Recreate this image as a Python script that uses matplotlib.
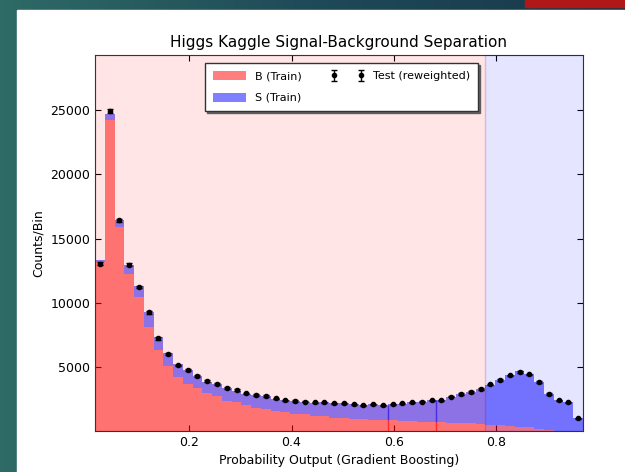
import numpy as np
import matplotlib
matplotlib.use("Agg")
import matplotlib.pyplot as plt
from matplotlib.patches import Rectangle

# probability range of the histogram and the cut values
x_lo, x_hi = 0.0154, 0.9705
n_bins = 50
cut_lines = [0.588, 0.682]
sig_cut = 0.7785

# training background (B), stacked signal total (B+S) and test counts, per bin
b_train = [13150, 24250, 15900, 12200, 10450, 8100, 6350, 5050, 4200, 3650,
           3350, 3000, 2700, 2350, 2250, 2050, 1800, 1750, 1560, 1500,
           1340, 1300, 1180, 1150, 1050, 1010, 930, 900, 870, 850,
           820, 790, 760, 730, 700, 670, 640, 610, 600, 540,
           470, 430, 390, 340, 280, 170, 70, 30, 15, 5]
total_train = [13300, 24735, 16425, 12920, 11310, 9285, 7290, 6090, 5185, 4740,
               4275, 3835, 3650, 3315, 3110, 2880, 2780, 2700, 2520, 2400,
               2330, 2270, 2220, 2240, 2150, 2150, 2070, 2030, 2070, 2020,
               2090, 2140, 2240, 2270, 2400, 2420, 2650, 2870, 3030, 3280,
               3620, 4000, 4340, 4640, 4450, 3850, 2920, 2400, 2250, 1000]
test_counts = [13050, 24940, 16425, 12940, 11230, 9235, 7210, 6010, 5110, 4740,
               4275, 3910, 3680, 3365, 3210, 2930, 2795, 2720, 2540, 2405,
               2330, 2275, 2225, 2250, 2150, 2150, 2070, 2015, 2070, 2015,
               2095, 2150, 2250, 2275, 2405, 2405, 2665, 2875, 3030, 3265,
               3625, 3990, 4330, 4615, 4405, 3810, 2875, 2380, 2225, 980]

b_train = np.array(b_train)
s_train = np.array(total_train) - b_train
test_counts = np.array(test_counts)
test_err = np.sqrt(test_counts)  # poisson errors

edges = np.linspace(x_lo, x_hi, n_bins + 1)
centers = 0.5 * (edges[1:] + edges[:-1])

fig = plt.figure(figsize=(6.25, 4.72), dpi=100)

# slide background: teal frame, white page, red tab
bg = fig.add_axes([0, 0, 1, 1], zorder=-10)
grad = np.linspace(0, 1, 200)[None, :]
bg.imshow(grad, aspect="auto", extent=[0, 1, 0, 1],
          cmap=matplotlib.colors.LinearSegmentedColormap.from_list("slide", ["#2e6a66", "#1f4a58", "#183848"]))
bg.add_patch(Rectangle((17 / 625, 0), 1, 1 - 10 / 472, color="white"))
bg.add_patch(Rectangle((525 / 625, 1 - 7 / 472), 100 / 625, 7 / 472, color="#b01818"))
bg.set_xlim(0, 1)
bg.set_ylim(0, 1)
bg.axis("off")

ax = fig.add_axes([95 / 625, 41 / 472, 488 / 625, 376 / 472])

ax.hist([centers, centers], bins=edges, weights=[b_train, s_train], stacked=True,
        histtype="stepfilled", color=["r", "b"], alpha=0.5,
        label=["B (Train)", "S (Train)"], zorder=2)

# cut lines inside the histogram
for c in cut_lines:
    i = np.searchsorted(edges, c) - 1
    ax.vlines(c, 0, b_train[i], color="r", alpha=0.6, lw=1, zorder=2.5)
    ax.vlines(c, b_train[i], b_train[i] + s_train[i], color="b", alpha=0.6, lw=1, zorder=2.5)

ax.axvspan(x_lo, sig_cut, color="r", alpha=0.1, zorder=3)
ax.axvspan(sig_cut, x_hi, color="b", alpha=0.1, zorder=3)

ax.errorbar(centers, test_counts, yerr=test_err, fmt="o", color="k", ms=3,
            capsize=2, elinewidth=1, label="Test (reweighted)", zorder=4)

ax.set_xlim(x_lo, x_hi)
ax.set_ylim(0, 29300)
ax.set_xticks([0.2, 0.4, 0.6, 0.8])
ax.set_yticks([5000, 10000, 15000, 20000, 25000])
ax.tick_params(direction="in", top=True, right=True, labelsize=9, length=4)
for s in ax.spines.values():
    s.set_color("#333333")

ax.set_title("Higgs Kaggle Signal-Background Separation", fontsize=11)
ax.set_xlabel("Probability Output (Gradient Boosting)", fontsize=9)
ax.set_ylabel("Counts/Bin", fontsize=9)

handles, labels = ax.get_legend_handles_labels()
order = [labels.index("B (Train)"), labels.index("S (Train)"), labels.index("Test (reweighted)")]
leg = ax.legend([handles[i] for i in order], [labels[i] for i in order],
                loc="upper center", bbox_to_anchor=(0.505, 0.993), ncol=2, fontsize=8,
                numpoints=2, shadow={"ox": 1.5, "oy": -1.5, "color": "#555555", "alpha": 0.9},
                fancybox=False, handlelength=3, handleheight=0.9, labelspacing=1.0,
                columnspacing=2.6, borderpad=0.7)
leg.get_frame().set_edgecolor("#333333")
leg.set_zorder(6)

fig.savefig("out.png", dpi=100)
